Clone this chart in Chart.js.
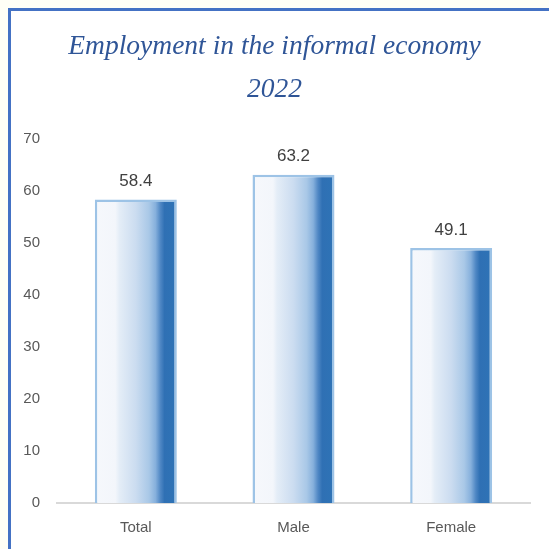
<!DOCTYPE html>
<html>
<head>
<meta charset="utf-8">
<script src="https://cdn.jsdelivr.net/npm/chart.js@4"></script>
<style>
  html, body { margin: 0; padding: 0; width: 549px; height: 549px; overflow: hidden; background: #fffff6; }
  #frame { position: absolute; left: 8px; top: 8px; width: 560px; height: 560px; border: 3px solid #4472c4; background: #ffffff; }
  #wrap { position: absolute; left: 0; top: 0; width: 549px; height: 549px; }
</style>
</head>
<body>
<div id="frame"></div>
<div id="wrap"><canvas id="chart" width="549" height="549"></canvas></div>
<script>
const categories = ['Total', 'Male', 'Female'];
const shares = [58.4, 63.2, 49.1];
const yTicks = [0, 10, 20, 30, 40, 50, 60, 70];
const titleLines = ['Employment in the informal economy', '2022'];

const BAR_PCT = 0.52;

// horizontal white-to-blue fill across each bar
function barFill(ctx) {
  const chart = ctx.chart;
  const xs = chart.scales && chart.scales.x;
  if (!xs || ctx.dataIndex === undefined) return '#9dc3e6';
  const cx = xs.getPixelForValue(ctx.dataIndex);
  const w = xs.width / categories.length * BAR_PCT;
  if (!isFinite(cx) || !isFinite(w) || w <= 0) return '#9dc3e6';
  const g = chart.ctx.createLinearGradient(cx - w / 2, 0, cx + w / 2, 0);
  g.addColorStop(0.0, '#f6f8fc');
  g.addColorStop(0.25, '#f3f6fb');
  g.addColorStop(0.3, '#e4edf7');
  g.addColorStop(0.5, '#cbdcf0');
  g.addColorStop(0.66, '#a9c8e7');
  g.addColorStop(0.74, '#86b0dc');
  g.addColorStop(0.8, '#4f87c4');
  g.addColorStop(0.85, '#2f70b4');
  g.addColorStop(1.0, '#2e73b6');
  return g;
}

// value printed above each bar
const valueLabels = {
  id: 'valueLabels',
  afterDatasetsDraw(chart) {
    const c = chart.ctx;
    const meta = chart.getDatasetMeta(0);
    c.save();
    c.font = '17px "Liberation Sans", Arial, sans-serif';
    c.fillStyle = '#404040';
    c.textAlign = 'center';
    c.textBaseline = 'middle';
    meta.data.forEach((bar, i) => {
      c.fillText(shares[i].toFixed(1), bar.x, bar.y - 18);
    });
    c.restore();
  }
};

new Chart(document.getElementById('chart'), {
  type: 'bar',
  data: {
    labels: categories,
    datasets: [{
      data: shares,
      backgroundColor: barFill,
      borderColor: '#9dc3e6',
      borderWidth: 2.5,
      borderSkipped: 'bottom',
      barPercentage: BAR_PCT,
      categoryPercentage: 1
    }]
  },
  options: {
    responsive: false,
    animation: false,
    layout: { padding: { left: 19, right: 19, top: 25, bottom: 0 } },
    plugins: {
      legend: { display: false },
      tooltip: { enabled: false },
      title: {
        display: true,
        text: titleLines,
        color: '#2f5597',
        font: { family: '"Liberation Serif", "Times New Roman", serif', size: 27.5, style: 'italic', weight: 'normal', lineHeight: 1.57 },
        padding: { top: 0, bottom: 28 }
      }
    },
    scales: {
      x: {
        grid: { display: false, drawTicks: false },
        border: { display: true, color: '#d9d9d9', width: 2 },
        ticks: { color: '#595959', font: { family: '"Liberation Sans", Arial, sans-serif', size: 15 }, padding: 16 },
        afterFit(s) { s.height = 46; }
      },
      y: {
        min: 0,
        max: 70,
        afterBuildTicks(s) { s.ticks = yTicks.map(v => ({ value: v })); },
        grid: { display: false, drawTicks: false },
        border: { display: false },
        ticks: { color: '#595959', font: { family: '"Liberation Sans", Arial, sans-serif', size: 15 }, padding: 17 },
        afterFit(s) { s.width = 38; }
      }
    }
  },
  plugins: [valueLabels]
});
</script>
</body>
</html>
